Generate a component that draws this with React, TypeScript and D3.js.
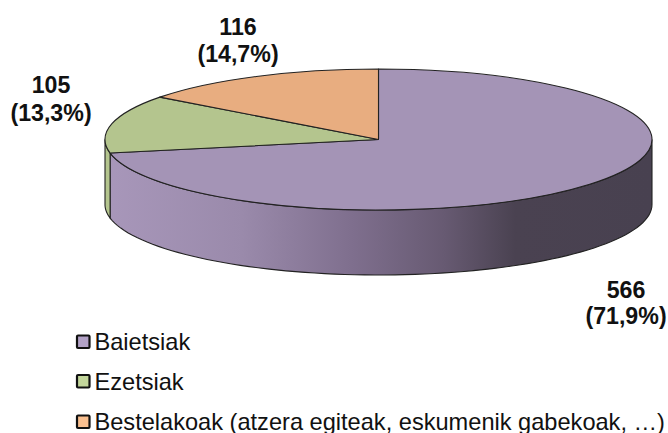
import React from "react";
import * as d3 from "d3";

const categories = ["Baietsiak", "Ezetsiak", "Bestelakoak (atzera egiteak, eskumenik gabekoak, …)"];
const values = [566, 105, 116];
const percents = ["71,9%", "13,3%", "14,7%"];
const topColors = ["#a494b6", "#b4c58e", "#e8ad80"];
const legendColors = ["#b3a2c7", "#c3d69b", "#fac090"];

const W = 668, H = 433;
const cx = 378.5, cy = 139.5, rx = 273.5, ry = 70.5, depth = 65;

const pie = d3.pie<number>().sort(null).value((d) => d);
const arcs = pie(values);
const arcGen = d3.arc<d3.PieArcDatum<number>>().innerRadius(0).outerRadius(rx);

const pt = (a: number, dy = 0): [number, number] => [cx + rx * Math.sin(a), cy - ry * Math.cos(a) + dy];
const wall = (a0: number, a1: number) => {
  const s = Math.max(a0, Math.PI / 2), e = Math.min(a1, (3 * Math.PI) / 2);
  if (e <= s) return null;
  const ts = d3.range(0, 81).map((i) => d3.interpolateNumber(s, e)(i / 80));
  const top = ts.map((a) => pt(a));
  const bottom = ts.slice().reverse().map((a) => pt(a, depth));
  return d3.line()([...top, ...bottom]) + "Z";
};

const labelLines = [
  { x: 626, y: [298, 324], i: 0 },
  { x: 51, y: [93, 121], i: 1 },
  { x: 238, y: [35, 62], i: 2 },
];
const legendY = [350, 389.5, 430];
const fontFamily = "'Liberation Sans', Arial, sans-serif";

export default function App() {
  return (
    <svg width={W} height={H} style={{ position: "absolute", left: 0, top: 0, background: "#fff" }}>
      <defs>
        <linearGradient id="purpleWall" gradientUnits="userSpaceOnUse" x1={105} x2={652} y1={0} y2={0}>
          <stop offset="0" stopColor="#a897ba" />
          <stop offset="0.25" stopColor="#9a8aab" />
          <stop offset="0.45" stopColor="#7f6f8e" />
          <stop offset="0.62" stopColor="#675a72" />
          <stop offset="0.75" stopColor="#4a4251" />
          <stop offset="1" stopColor="#484150" />
        </linearGradient>
      </defs>
      {arcs.map((a, i) => {
        const d = wall(a.startAngle, a.endAngle);
        return d ? (
          <path key={i} d={d} fill={i === 0 ? "url(#purpleWall)" : topColors[i]} stroke="#222" strokeWidth={1.1} />
        ) : null;
      })}
      {arcs.map((a, i) => (
        <path
          key={i}
          d={arcGen(a) as string}
          transform={`translate(${cx},${cy}) scale(1,${ry / rx})`}
          fill={topColors[i]}
          stroke="#222"
          strokeWidth={1.1}
          vectorEffect="non-scaling-stroke"
          strokeLinejoin="round"
        />
      ))}
      {labelLines.map((l) => (
        <text key={l.i} textAnchor="middle" fontFamily={fontFamily} fontWeight="bold" fontSize={23.2} fill="#111">
          <tspan x={l.x} y={l.y[0]}>{values[l.i]}</tspan>
          <tspan x={l.x} y={l.y[1]}>({percents[l.i]})</tspan>
        </text>
      ))}
      {categories.map((c, i) => (
        <g key={c}>
          <rect x={77} y={legendY[i] - 14.5} width={12.5} height={12.5} fill={legendColors[i]} stroke="#111" strokeWidth={2.2} rx={1} />
          <text x={94.5} y={legendY[i]} fontFamily={fontFamily} fontSize={23.6} fill="#111">{c}</text>
        </g>
      ))}
    </svg>
  );
}
